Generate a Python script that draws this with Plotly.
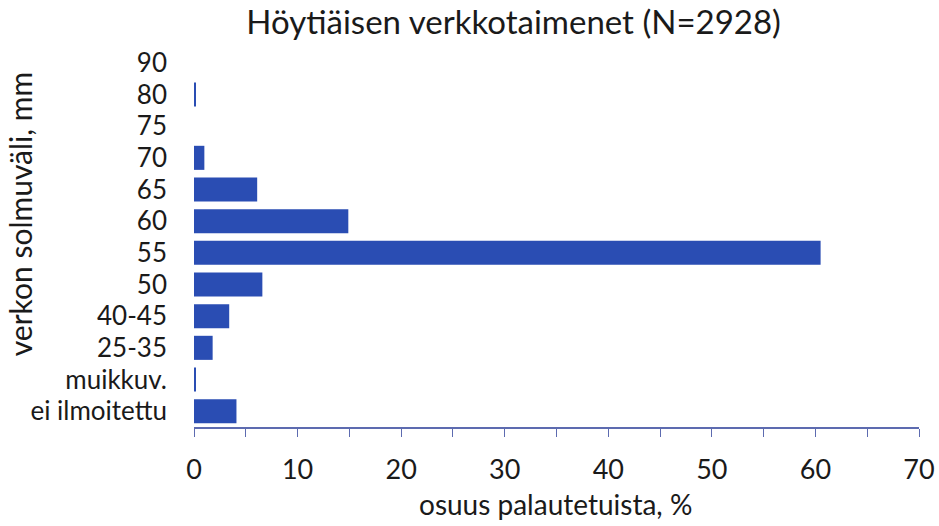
import plotly.graph_objects as go

categories = ["ei ilmoitettu", "muikkuv.", "25-35", "40-45", "50", "55", "60", "65", "70", "75", "80", "90"]
values = [4.1, 0.15, 1.8, 3.4, 6.6, 60.5, 14.9, 6.1, 1.0, 0.0, 0.15, 0.0]
x_ticks = [0, 10, 20, 30, 40, 50, 60, 70]

FONT = "Lato"
TXT = "#1a1a1a"
fig = go.Figure(go.Bar(
    y=categories, x=values, orientation="h",
    marker=dict(color="#2a4db3", line=dict(width=0)),
))
fig.update_layout(
    width=939, height=526,
    margin=dict(l=194, r=20, t=47, b=99, autoexpand=False),
    paper_bgcolor="white", plot_bgcolor="white",
    bargap=0.24,
    showlegend=False,
    title=dict(text="Höytiäisen verkkotaimenet (N=2928)", x=0.547, xanchor="center",
               y=0.958, yanchor="middle", font=dict(family=FONT, size=33, color=TXT)),
    font=dict(family=FONT, size=26, color=TXT),
    annotations=[
        dict(text="verkon solmuväli, mm", xref="paper", yref="paper",
             x=-0.24, y=0.56, textangle=-90, showarrow=False,
             xanchor="center", yanchor="middle", font=dict(size=30, color=TXT)),
        dict(text="osuus palautetuista, %", xref="paper", yref="paper",
             x=0.4986, y=-0.203, showarrow=False,
             xanchor="center", yanchor="middle", font=dict(size=28, color=TXT)),
    ],
)
fig.update_xaxes(
    range=[0, 70], tickvals=x_ticks, showgrid=False, zeroline=False,
    showline=True, linecolor="#5d6bb0", linewidth=1.5,
    ticks="outside", ticklen=8, tickcolor="#5d6bb0",
    minor=dict(dtick=5, ticks="outside", ticklen=8, tickcolor="#5d6bb0"),
    ticklabelstandoff=10, automargin=False,
    tickfont=dict(size=27),
)
fig.update_yaxes(
    categoryorder="array", categoryarray=categories,
    tickmode="array", tickvals=categories, ticktext=categories,
    showgrid=False, zeroline=False, showline=False,
    ticks="", ticklabelstandoff=26, automargin=False,
    tickfont=dict(size=26),
)
fig.write_html("out.html", post_script="document.body.style.margin='0';",
               config={"displayModeBar": False})
